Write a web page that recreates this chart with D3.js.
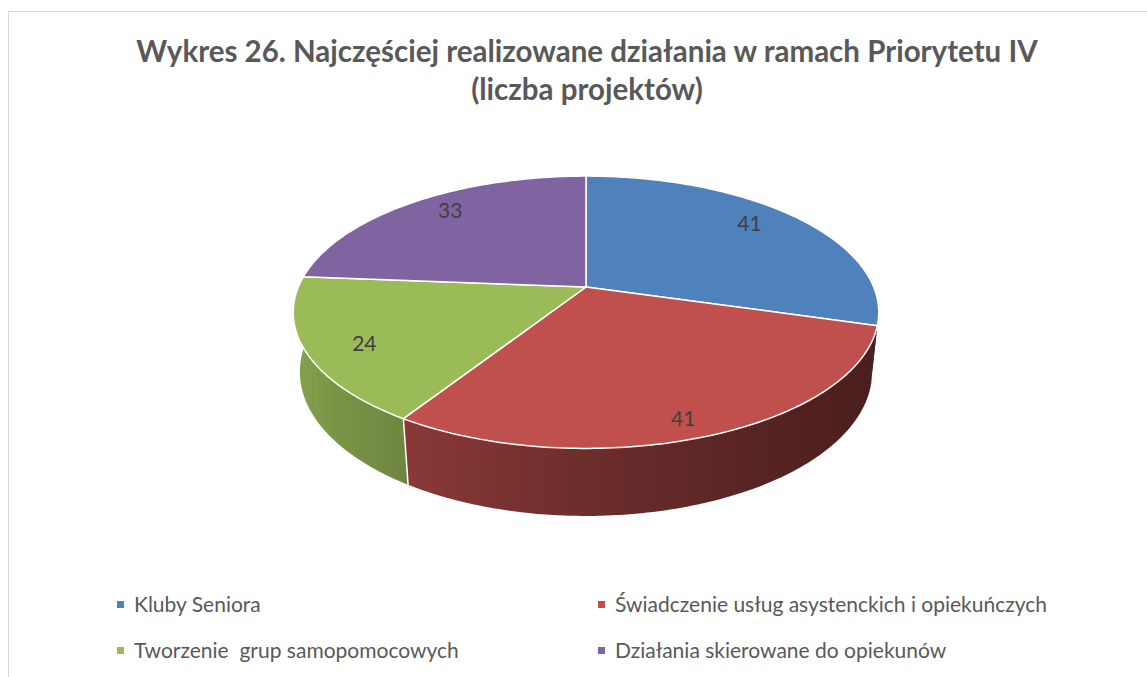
<!DOCTYPE html>
<html>
<head>
<meta charset="utf-8">
<title>Wykres 26</title>
<style>
  body { margin: 0; background: #fff; }
  text { font-family: Lato, "Open Sans", sans-serif; }
</style>
</head>
<body>
<script src="https://cdn.jsdelivr.net/npm/d3@7"></script>
<script>
// data
var categories = ["Kluby Seniora", "Świadczenie usług asystenckich i opiekuńczych",
                  "Tworzenie  grup samopomocowych", "Działania skierowane do opiekunów"];
var values = [41, 41, 24, 33];
var colors = ["#4F81BD", "#C0504D", "#9BBB59", "#8064A2"];
var titleLines = ["Wykres 26. Najczęściej realizowane działania w ramach Priorytetu IV",
                  "(liczba projektów)"];

var W = 1147, H = 677;
var svg = d3.select("body").append("svg")
    .attr("width", W).attr("height", H);
var defs = svg.append("defs");

// chart border (runs off the right / bottom of the picture)
svg.append("rect")
    .attr("x", 8.5).attr("y", 11.5)
    .attr("width", 1160).attr("height", 700)
    .attr("fill", "#fff").attr("stroke", "#D9D9D9").attr("stroke-width", 1);

// title
svg.selectAll("text.title").data(titleLines).enter().append("text")
    .attr("class", "title")
    .attr("x", 587).attr("y", function(d, i) { return 62 + i * 38; })
    .attr("text-anchor", "middle")
    .attr("font-size", 29.5).attr("font-weight", "bold")
    .attr("fill", "#595959")
    .text(function(d) { return d; });

// simple perspective camera for the 3d pie
var cam = { cx: 586, cy: 287, f: 1380, dist: 4.797, tilt: 27.2 * Math.PI / 180 };
var depth = 0.235;
var sinT = Math.sin(cam.tilt), cosT = Math.cos(cam.tilt);

function proj(a, r, y) {
    var X = r * Math.sin(a), Z = -r * Math.cos(a);
    var d = cam.dist - (y * sinT + Z * cosT);
    var v = y * cosT - Z * sinT;
    return [cam.cx + cam.f * X / d, cam.cy - cam.f * v / d];
}

function shade(c, a) {
    var k = 0.66 + 0.27 * Math.cos(a - 290 * Math.PI / 180);
    var col = d3.rgb(c);
    return d3.rgb(col.r * k, col.g * k, col.b * k).formatHex();
}

var pie = d3.pie().sort(null).value(function(d) { return d; });
var arcs = pie(values);
var step = Math.PI / 180;
var line = d3.line();

var g = svg.append("g");

// side walls (front half only), shaded with a horizontal gradient
arcs.forEach(function(s, i) {
    var a0 = Math.max(s.startAngle, Math.PI / 2);
    var a1 = Math.min(s.endAngle, Math.PI * 1.5);
    if (a1 <= a0) return;
    var n = Math.max(2, Math.ceil((a1 - a0) / step));
    var top = [], bot = [], samples = [];
    for (var j = 0; j <= n; j++) {
        var t = a0 + (a1 - a0) * j / n;
        top.push(proj(t, 1, 0));
        bot.push(proj(t, 1, -depth));
        samples.push({ x: proj(t, 1, 0)[0], c: shade(colors[i], t) });
    }
    var xs = samples.map(function(d) { return d.x; });
    var xMin = d3.min(xs), xMax = d3.max(xs);
    var grad = defs.append("linearGradient")
        .attr("id", "side" + i)
        .attr("gradientUnits", "userSpaceOnUse")
        .attr("x1", xMin).attr("x2", xMax).attr("y1", 0).attr("y2", 0);
    samples.sort(function(p, q) { return p.x - q.x; });
    samples.forEach(function(p) {
        grad.append("stop")
            .attr("offset", (p.x - xMin) / (xMax - xMin))
            .attr("stop-color", p.c);
    });
    g.append("path")
        .attr("d", line(top.concat(bot.reverse())) + "Z")
        .attr("fill", "url(#side" + i + ")");
});

// white seams between side walls
arcs.forEach(function(s) {
    var a = s.endAngle;
    if (Math.cos(a) < -0.3) {
        g.append("path")
            .attr("d", line([proj(a, 1, 0), proj(a, 1, -depth)]))
            .attr("stroke", "#fff").attr("stroke-width", 1.5).attr("fill", "none");
    }
});

// top faces
arcs.forEach(function(s, i) {
    var pts = [proj(0, 0, 0)];
    var n = Math.ceil((s.endAngle - s.startAngle) / step);
    for (var j = 0; j <= n; j++) {
        pts.push(proj(s.startAngle + (s.endAngle - s.startAngle) * j / n, 1, 0));
    }
    g.append("path")
        .attr("d", line(pts) + "Z")
        .attr("fill", colors[i])
        .attr("stroke", "#fff").attr("stroke-width", 1.5)
        .attr("stroke-linejoin", "round");
});

// data labels: pulled in from the rim point on the bisector
arcs.forEach(function(s) {
    var c = proj(0, 0, 0);
    var e = proj((s.startAngle + s.endAngle) / 2, 1, 0);
    var px = c[0] + (e[0] - c[0]) * 0.79;
    var py = c[1] + (e[1] - c[1]) * 0.89;
    g.append("text")
        .attr("x", px).attr("y", py + 7)
        .attr("text-anchor", "middle")
        .attr("font-size", 21).attr("fill", "#404040")
        .text(s.data);
});

// legend
var legX = [117, 598], legY = [604, 650];
var leg = svg.selectAll("g.leg").data(categories).enter().append("g")
    .attr("class", "leg")
    .attr("transform", function(d, i) { return "translate(" + legX[i % 2] + "," + legY[Math.floor(i / 2)] + ")"; });
leg.append("rect")
    .attr("x", 0).attr("y", -3).attr("width", 7).attr("height", 7)
    .attr("fill", function(d, i) { return colors[i]; });
leg.append("text")
    .attr("x", 17).attr("y", 8)
    .attr("font-size", 21).attr("fill", "#595959")
    .attr("xml:space", "preserve").style("white-space", "pre")
    .text(function(d) { return d; });
</script>
</body>
</html>
